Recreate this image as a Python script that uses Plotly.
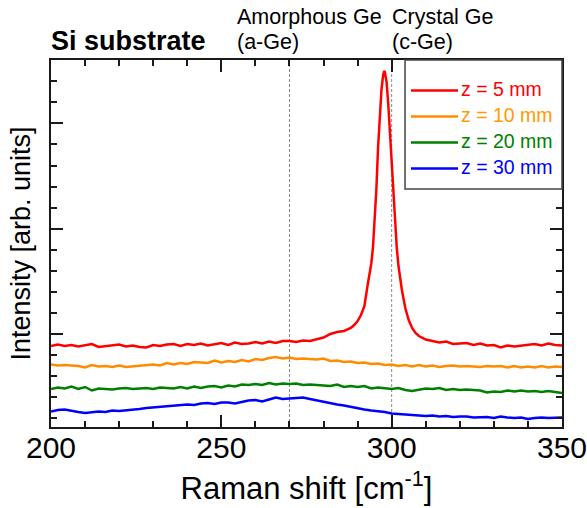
import plotly.graph_objects as go

# Raman shift (cm^-1) sampling for the flat spectra
x_base = [200, 202, 204, 206, 208, 210, 212, 214, 216, 218, 220, 222, 224, 226, 228, 230,
          232, 234, 236, 238, 240, 242, 244, 246, 248, 250, 252, 254, 256, 258, 260, 262,
          264, 266, 268, 270, 272, 274, 276, 278, 280, 282, 284, 286, 288, 290, 292, 294,
          296, 298, 300, 302, 304, 306, 308, 310, 312, 314, 316, 318, 320, 322, 324, 326,
          328, 330, 332, 334, 336, 338, 340, 342, 344, 346, 348, 350]

# z = 5 mm has a finer sampling around the c-Ge peak
x_5mm = [200, 202, 204, 206, 208, 210, 212, 214, 216, 218, 220, 222, 224, 226, 228, 230,
         232, 234, 236, 238, 240, 242, 244, 246, 248, 250, 252, 254, 256, 258, 260, 262,
         264, 266, 268, 270, 272, 274, 276, 278, 280, 282, 284, 286, 288, 289, 290, 291,
         292, 293, 294, 294.5, 295, 295.5, 296, 296.5, 297, 297.5, 297.8, 298, 298.5, 299,
         299.5, 300, 300.5, 301, 301.5, 302, 303, 304, 305, 306, 307, 308, 310, 312, 314,
         316, 318, 320, 322, 324, 326, 328, 330, 332, 334, 336, 338, 340, 342, 344, 346,
         348, 350]

y_5mm = [81, 82.5, 81, 82, 80.5, 82, 83, 80, 81, 82, 82.5, 80.5, 81.5, 80, 79.5, 82,
         81, 82.5, 83, 81, 83, 82, 83.5, 81.5, 83, 84, 82, 84.5, 83, 83.5, 85, 83.5,
         85.5, 84, 86, 86, 85, 86.5, 86, 87.5, 89.5, 93, 95, 96, 99, 102, 106, 112,
         121, 143, 163, 179, 205, 237, 279, 312, 337, 352, 356, 355, 345, 323,
         294, 262, 230, 202, 179, 161, 137, 119, 107, 99, 94, 91, 87.5, 86, 84.5,
         85.5, 83, 83.5, 84, 82, 83.5, 81.5, 82, 79.5, 81.5, 80.5, 81.5, 82, 83, 81.5, 83.5,
         82, 81.5]

y_10mm = [62.5, 61.5, 62, 61.5, 61, 59.5, 62, 60.5, 61, 60, 61.5, 60, 60.5, 61, 62, 62.5,
          61.5, 64, 62.5, 64, 63, 65, 64.5, 64, 66.5, 64.5, 66, 65, 67, 65.5, 68, 67,
          69, 70, 68.5, 69.5, 68, 68.5, 68, 67.5, 68.5, 66, 66.5, 65, 65.5, 64, 64.5, 63,
          63.5, 62, 62.5, 61, 62, 60.5, 62, 60.5, 61.5, 60, 61, 61.5, 60.5, 61, 60.5, 60,
          61, 60.5, 61, 59.5, 61, 59.5, 60.5, 59.5, 61, 59.5, 60.5, 60]

y_20mm = [38, 39.5, 38.5, 40.5, 38, 40, 36.5, 38.5, 38, 37.5, 38.5, 39, 38, 38.5, 39, 38,
          39.5, 39, 38.5, 40, 38.5, 40.5, 39, 40.5, 41, 39.5, 41.5, 40.5, 42.5, 42, 43, 42,
          44, 42.5, 43.5, 43, 43.5, 42, 42.5, 42, 41.5, 41, 42.5, 40, 41, 40, 41, 38.5,
          39.5, 38.5, 38, 39, 37, 36, 37.5, 38.5, 38, 39, 37, 38, 37, 37.5, 37, 36.5,
          34.5, 35.5, 35, 36.5, 35.5, 36.5, 35.5, 36, 35, 36, 35, 34]

y_30mm = [15.5, 17, 17.5, 16, 15, 14, 14.5, 15.5, 15, 16.5, 16, 16.5, 17.5, 18, 19, 19.5,
          20, 21, 21.5, 22, 22.5, 22, 23.5, 24, 23, 24.5, 24.5, 23.5, 25, 26.5, 27, 25.5,
          27.5, 29.5, 28, 28.5, 29, 29.5, 28, 26.5, 25.5, 24, 22.5, 21.5, 20, 18.5, 17.5, 16.5,
          16, 15, 13.5, 13, 12.5, 12, 11.5, 11, 11.5, 10.5, 11, 10, 10.5, 10.5, 9.5, 10,
          10, 9, 10.5, 9.5, 9, 9.5, 8, 9, 9.5, 9, 9, 9.5]

series_names = ["z = 5 mm", "z = 10 mm", "z = 20 mm", "z = 30 mm"]
series_x = [x_5mm, x_base, x_base, x_base]
series_y = [y_5mm, y_10mm, y_20mm, y_30mm]
line_colors = ["#FF0000", "#FF8C00", "#008000", "#0000FF"]
text_colors = ["#FF0000", "#FF9A00", "#008000", "#0000FF"]

ref_lines = [270, 300]  # a-Ge and c-Ge positions
x_ticks = [200, 250, 300, 350]

FONT = "Liberation Sans, Arial, sans-serif"
AX = "#1a1a1a"

fig = go.Figure()
for name, xs, ys, lc in zip(series_names, series_x, series_y, line_colors):
    fig.add_trace(go.Scatter(
        x=xs, y=ys, mode="lines", name=name, showlegend=False,
        line=dict(color=lc, width=2.5, shape="linear"),
    ))

for xv in ref_lines:
    fig.add_shape(type="line", xref="x", yref="paper", x0=xv, x1=xv, y0=0, y1=1,
                  line=dict(color="#8a8a8a", width=1, dash="3px,2px"), layer="below")

# legend box (drawn by hand so the key lines match the original length)
LEG_X0, LEG_X1, LEG_Y0, LEG_Y1 = 0.6928, 1.0, 0.6485, 1.0
fig.add_shape(type="rect", xref="paper", yref="paper", x0=LEG_X0, x1=LEG_X1, y0=LEG_Y0, y1=LEG_Y1,
              line=dict(color="#444", width=1.5), fillcolor="white", layer="above")
row_y = [0.9169, 0.8460, 0.7752, 0.7044]
for name, lc, tc, ry in zip(series_names, line_colors, text_colors, row_y):
    fig.add_shape(type="line", xref="paper", yref="paper", x0=0.7045, x1=0.7965, y0=ry, y1=ry,
                  line=dict(color=lc, width=2.5), layer="above")
    fig.add_annotation(text=name, xref="paper", yref="paper", x=0.799, y=ry + 0.004,
                       xanchor="left", yanchor="middle", showarrow=False,
                       font=dict(family=FONT, size=19.5, color=tc))

fig.add_annotation(text="<b>Si substrate</b>", xref="paper", yref="paper",
                   x=-0.004, y=1.052, xanchor="left", yanchor="middle", showarrow=False,
                   font=dict(family=FONT, size=27, color="black"))
fig.add_annotation(text="Amorphous Ge", xref="paper", yref="paper",
                   x=0.360, y=1.118, xanchor="left", yanchor="middle", showarrow=False,
                   font=dict(family=FONT, size=21.5, color="black"))
fig.add_annotation(text="(a-Ge)", xref="paper", yref="paper",
                   x=0.360, y=1.048, xanchor="left", yanchor="middle", showarrow=False,
                   font=dict(family=FONT, size=21.5, color="black"))
fig.add_annotation(text="Crystal Ge", xref="paper", yref="paper",
                   x=0.664, y=1.118, xanchor="left", yanchor="middle", showarrow=False,
                   font=dict(family=FONT, size=21.5, color="black"))
fig.add_annotation(text="(c-Ge)", xref="paper", yref="paper",
                   x=0.664, y=1.048, xanchor="left", yanchor="middle", showarrow=False,
                   font=dict(family=FONT, size=21.5, color="black"))

fig.update_layout(
    width=587, height=508,
    margin=dict(l=51, r=25, t=60, b=81, autoexpand=False),
    paper_bgcolor="white", plot_bgcolor="white",
    font=dict(family=FONT, color="black"),
    showlegend=False,
    xaxis=dict(
        range=[200, 350], tickvals=x_ticks, ticktext=[str(v) for v in x_ticks],
        ticks="inside", ticklen=12, tickwidth=1.5,
        tickcolor=AX, showline=True, linecolor=AX, linewidth=2, mirror="ticks",
        showgrid=False, zeroline=False, automargin=False, ticklabeloverflow="allow",
        ticklabelstandoff=-7,
        tickfont=dict(family=FONT, size=30, color="black"),
        minor=dict(dtick=10, ticks="inside", ticklen=6, tickwidth=1.5, tickcolor=AX, showgrid=False),
        title=dict(text="Raman shift [cm<sup>-1</sup>]", font=dict(family=FONT, size=31), standoff=14),
    ),
    yaxis=dict(
        range=[0, 367], tick0=93, dtick=105.3, ticks="inside", ticklen=12, tickwidth=1.5,
        tickcolor=AX, showline=True, linecolor=AX, linewidth=2, mirror="ticks",
        showgrid=False, zeroline=False, showticklabels=False, automargin=False,
        minor=dict(dtick=21.06, tick0=93, ticks="inside", ticklen=6, tickwidth=1.5, tickcolor=AX, showgrid=False),
        title=dict(text="Intensity [arb. units]", font=dict(family=FONT, size=27), standoff=11),
    ),
)

fig.write_html("out.html")
